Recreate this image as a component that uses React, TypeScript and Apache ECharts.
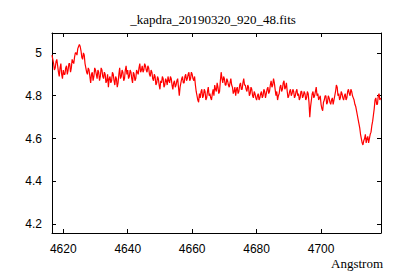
import React, { useEffect, useRef } from "react";
import * as echarts from "echarts";

const TITLE = "_kapdra_20190320_920_48.fits";
const X_LABEL = "Angstrom";
const X_START = 4616.5;
const X_STEP = 0.5;
const X_TICKS = [4620, 4640, 4660, 4680, 4700];
const Y_TICKS = [4.2, 4.4, 4.6, 4.8, 5.0];

// flux at X_START + i * X_STEP
const FLUX = [
  4.99, 4.95, 4.93, 4.97, 4.91, 4.93, 4.90, 4.92,
  4.90, 4.94, 4.92, 4.95, 4.93, 4.96, 4.98, 5.00, 5.02, 5.04,
  5.01, 4.97, 4.99, 4.93, 4.90, 4.92, 4.86, 4.91, 4.89, 4.92,
  4.88, 4.91, 4.89, 4.92, 4.88, 4.90, 4.87, 4.84, 4.89, 4.87,
  4.90, 4.85, 4.88, 4.86, 4.93, 4.89, 4.91, 4.88, 4.94, 4.92,
  4.89, 4.91, 4.86, 4.90, 4.88, 4.91, 4.93, 4.91, 4.94, 4.92,
  4.94, 4.91, 4.93, 4.89, 4.91, 4.87, 4.89, 4.86, 4.88, 4.83,
  4.86, 4.88, 4.85, 4.87, 4.89, 4.86, 4.88, 4.83, 4.87, 4.85,
  4.88, 4.80, 4.86, 4.89, 4.86, 4.90, 4.88, 4.91, 4.88, 4.90,
  4.87, 4.85, 4.80, 4.77, 4.79, 4.83, 4.80, 4.82, 4.79, 4.84,
  4.81, 4.78, 4.83, 4.85, 4.82, 4.84, 4.82, 4.91, 4.86, 4.88,
  4.85, 4.87, 4.84, 4.88, 4.84, 4.82, 4.80, 4.84, 4.82, 4.86,
  4.83, 4.88, 4.85, 4.82, 4.84, 4.81, 4.83, 4.79, 4.81, 4.78,
  4.81, 4.79, 4.82, 4.80, 4.82, 4.81, 4.84, 4.82, 4.87, 4.85,
  4.86, 4.80, 4.78, 4.81, 4.85, 4.83, 4.87, 4.84, 4.82, 4.80,
  4.83, 4.81, 4.82, 4.80, 4.83, 4.81, 4.79, 4.82, 4.80, 4.81,
  4.79, 4.81, 4.70, 4.78, 4.82, 4.80, 4.84, 4.81, 4.79, 4.76,
  4.73, 4.78, 4.80, 4.77, 4.79, 4.76, 4.79, 4.78, 4.82, 4.84,
  4.81, 4.79, 4.81, 4.78, 4.81, 4.79, 4.83, 4.80, 4.82, 4.79,
  4.76, 4.73, 4.69, 4.65, 4.60, 4.57, 4.60, 4.58, 4.61, 4.60,
  4.63, 4.68, 4.74, 4.79, 4.76, 4.81, 4.79,
];

// flux at X_START + i * X_STEP + X_STEP / 2 (read between the samples above)
const FLUX_MID = [
  4.97, 4.92, 4.96, 4.94, 4.89, 4.95, 4.88, 4.90,
  4.93, 4.90, 4.95, 4.91, 4.97, 4.95, 5.00, 4.99, 5.03, 5.03,
  4.98, 5.00, 4.95, 4.91, 4.93, 4.89, 4.90, 4.87, 4.93, 4.90,
  4.92, 4.87, 4.93, 4.89, 4.91, 4.86, 4.90, 4.88, 4.86, 4.91,
  4.87, 4.89, 4.84, 4.90, 4.88, 4.92, 4.87, 4.92, 4.90, 4.88,
  4.92, 4.88, 4.91, 4.87, 4.92, 4.90, 4.95, 4.92, 4.91, 4.95,
  4.92, 4.94, 4.90, 4.92, 4.88, 4.90, 4.85, 4.89, 4.85, 4.87,
  4.89, 4.84, 4.88, 4.85, 4.87, 4.89, 4.85, 4.86, 4.84, 4.87,
  4.84, 4.84, 4.88, 4.86, 4.89, 4.87, 4.90, 4.87, 4.91, 4.88,
  4.89, 4.82, 4.78, 4.81, 4.82, 4.79, 4.83, 4.78, 4.82, 4.80,
  4.79, 4.81, 4.80, 4.83, 4.86, 4.81, 4.87, 4.88, 4.89, 4.85,
  4.88, 4.85, 4.86, 4.85, 4.81, 4.84, 4.83, 4.81, 4.85, 4.83,
  4.86, 4.85, 4.83, 4.85, 4.80, 4.84, 4.80, 4.82, 4.79, 4.80,
  4.78, 4.81, 4.79, 4.83, 4.79, 4.83, 4.81, 4.85, 4.84, 4.88,
  4.83, 4.82, 4.80, 4.84, 4.82, 4.86, 4.83, 4.86, 4.79, 4.82,
  4.80, 4.83, 4.79, 4.82, 4.80, 4.78, 4.82, 4.79, 4.82, 4.78,
  4.82, 4.77, 4.75, 4.81, 4.79, 4.82, 4.80, 4.78, 4.80, 4.74,
  4.77, 4.80, 4.76, 4.80, 4.77, 4.78, 4.76, 4.80, 4.85, 4.80,
  4.78, 4.82, 4.79, 4.80, 4.78, 4.82, 4.81, 4.83, 4.80, 4.78,
  4.75, 4.71, 4.67, 4.62, 4.58, 4.59, 4.62, 4.60, 4.58, 4.62,
  4.66, 4.71, 4.78, 4.76, 4.80, 4.78,
];

export default function App() {
  const ref = useRef<HTMLDivElement>(null);
  useEffect(() => {
    if (!ref.current) return;
    const chart = echarts.init(ref.current, null, { renderer: "svg" });
    const data: number[][] = [];
    FLUX.forEach((v, i) => {
      const x = X_START + i * X_STEP;
      data.push([x, v]);
      if (i < FLUX_MID.length) data.push([x + X_STEP / 2, FLUX_MID[i]]);
    });
    const sans = "Liberation Sans";
    const serif = "Liberation Serif";
    const xBase = {
      type: "value" as const,
      min: 4616.5,
      max: 4718.6,
      axisLine: { show: true, onZero: false, lineStyle: { color: "#000", width: 1 } },
      axisTick: { show: true, inside: true, length: 4, customValues: X_TICKS, lineStyle: { color: "#000" } },
      splitLine: { show: false },
    };
    const yBase = {
      type: "value" as const,
      min: 4.159,
      max: 5.093,
      axisLine: { show: true, onZero: false, lineStyle: { color: "#000", width: 1 } },
      axisTick: { show: true, inside: true, length: 4, customValues: Y_TICKS, lineStyle: { color: "#000" } },
      splitLine: { show: false },
    };
    chart.setOption({
      animation: false,
      backgroundColor: "#fff",
      grid: { left: 52, right: 19, top: 33, bottom: 47, containLabel: false },
      xAxis: [
        {
          ...xBase,
          position: "bottom",
          axisLabel: {
            show: true,
            customValues: X_TICKS,
            margin: 10,
            color: "#000",
            fontFamily: sans,
            fontSize: 12,
            formatter: (v: number) => String(v),
          },
        },
        { ...xBase, position: "top", axisLabel: { show: false } },
      ],
      yAxis: [
        {
          ...yBase,
          position: "left",
          axisLabel: {
            show: true,
            customValues: Y_TICKS,
            margin: 10,
            color: "#000",
            fontFamily: sans,
            fontSize: 12,
            formatter: (v: number) => String(Math.round(v * 10) / 10),
          },
        },
        { ...yBase, position: "right", axisLabel: { show: false } },
      ],
      series: [
        {
          type: "line",
          data,
          showSymbol: false,
          symbol: "none",
          lineStyle: { color: "#ff0000", width: 1.2 },
          xAxisIndex: 0,
          yAxisIndex: 0,
        },
      ],
      graphic: [
        {
          type: "text",
          x: 213,
          y: 19,
          style: {
            text: TITLE,
            fontFamily: serif,
            fontSize: 13,
            fill: "#000",
            textAlign: "center",
            textVerticalAlign: "middle",
          },
        },
        {
          type: "text",
          x: 383,
          y: 263,
          style: {
            text: X_LABEL,
            fontFamily: serif,
            fontSize: 13,
            fill: "#000",
            textAlign: "right",
            textVerticalAlign: "middle",
          },
        },
      ],
    });
    return () => chart.dispose();
  }, []);
  return (
    <div
      ref={ref}
      style={{ position: "fixed", left: 0, top: 0, width: 400, height: 280, background: "#fff" }}
    />
  );
}
